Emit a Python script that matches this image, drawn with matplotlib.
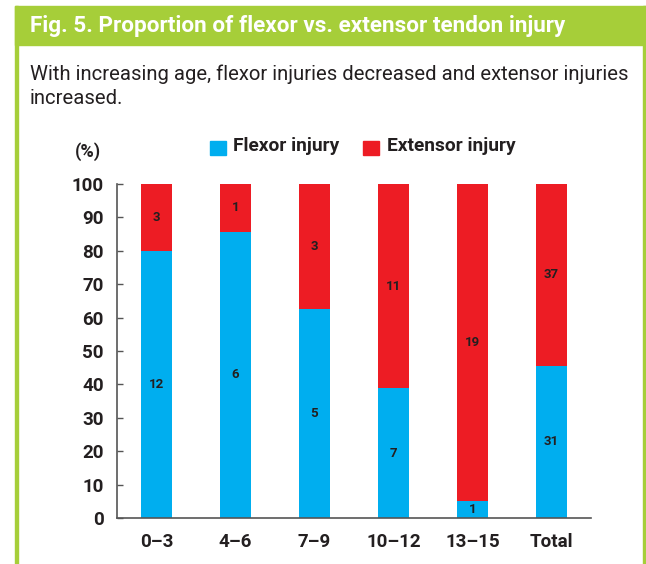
import numpy as np
import matplotlib
matplotlib.use("Agg")
import matplotlib.pyplot as plt
from matplotlib.patches import Rectangle

plt.rcParams['font.family'] = ['Roboto', 'DejaVu Sans']

# data (counts per age group)
groups = ['0\u20133', '4\u20136', '7\u20139', '10\u201312', '13\u201315', 'Total']
flexor = np.array([12, 6, 5, 7, 1, 31])
extensor = np.array([3, 1, 3, 11, 19, 37])

blue = '#00AEEF'
red = '#ED1C24'
green = '#A6CE39'
txt = '#231F20'

total = flexor + extensor
flex_pct = flexor / total * 100
ext_pct = extensor / total * 100

fig = plt.figure(figsize=(6.46, 5.64), dpi=100)

# frame: green header and side borders (pixel boxes)
W, H = 646, 564
def px(x, y, w, h):
    return (x / W, 1 - (y + h) / H, w / W, h / H)

for r in [px(15, 6, 631, 39), px(15, 6, 3, 558), px(643, 6, 3, 558)]:
    fig.patches.append(Rectangle(r[:2], r[2], r[3], transform=fig.transFigure,
                                 color=green, zorder=0))

fig.text(30 / W, 1 - 26 / H, 'Fig. 5. Proportion of flexor vs. extensor tendon injury',
         color='white', fontsize=16.2, fontweight='bold', va='center', ha='left')
fig.text(30 / W, 1 - 74 / H,
         'With increasing age, flexor injuries decreased and extensor injuries',
         color=txt, fontsize=14.6, va='center', ha='left')
fig.text(30 / W, 1 - 99 / H, 'increased.',
         color=txt, fontsize=14.6, va='center', ha='left')

ax = fig.add_axes([117 / W, 1 - 518 / H, (591 - 117) / W, (518 - 184) / H])
x = np.arange(len(groups))
w = 0.39
ax.bar(x, flex_pct, w, color=blue)
ax.bar(x, ext_pct, w, bottom=flex_pct, color=red)

for i in range(len(groups)):
    ax.text(x[i], flex_pct[i] / 2, str(flexor[i]), ha='center', va='center',
            fontsize=9.5, fontweight='bold', color=txt)
    ax.text(x[i], flex_pct[i] + ext_pct[i] / 2, str(extensor[i]), ha='center',
            va='center', fontsize=9.5, fontweight='bold', color=txt)

ax.set_xlim(-0.5, 5.5)
ax.set_ylim(0, 100)
ax.set_yticks(np.arange(0, 101, 10))
ax.set_xticks(x)
ax.set_xticklabels(groups)
ax.tick_params(axis='x', length=0, pad=11, labelsize=13.5, colors=txt)
ax.tick_params(axis='y', direction='in', length=4.5, width=1, pad=9.5,
               labelsize=13.5, colors=txt)
ax.tick_params(axis='y', color='#555555')
for lab in ax.get_xticklabels() + ax.get_yticklabels():
    lab.set_fontweight('bold')
for s in ['top', 'right']:
    ax.spines[s].set_visible(False)
for s in ['left', 'bottom']:
    ax.spines[s].set_color('#555555')
    ax.spines[s].set_linewidth(1.2)

fig.text(75 / W, 1 - 152 / H, '(%)', color=txt, fontsize=13, fontweight='bold',
         ha='left', va='center')

# legend
fig.patches.append(Rectangle(px(210, 141, 16, 14)[:2], 16 / W, 14 / H,
                             transform=fig.transFigure, color=blue))
fig.text(233 / W, 1 - 146 / H, 'Flexor injury', color=txt, fontsize=13.8,
         fontweight='bold', ha='left', va='center')
fig.patches.append(Rectangle(px(363, 141, 16, 14)[:2], 16 / W, 14 / H,
                             transform=fig.transFigure, color=red))
fig.text(387 / W, 1 - 146 / H, 'Extensor injury', color=txt, fontsize=13.8,
         fontweight='bold', ha='left', va='center')

fig.savefig('out.png', dpi=100)
